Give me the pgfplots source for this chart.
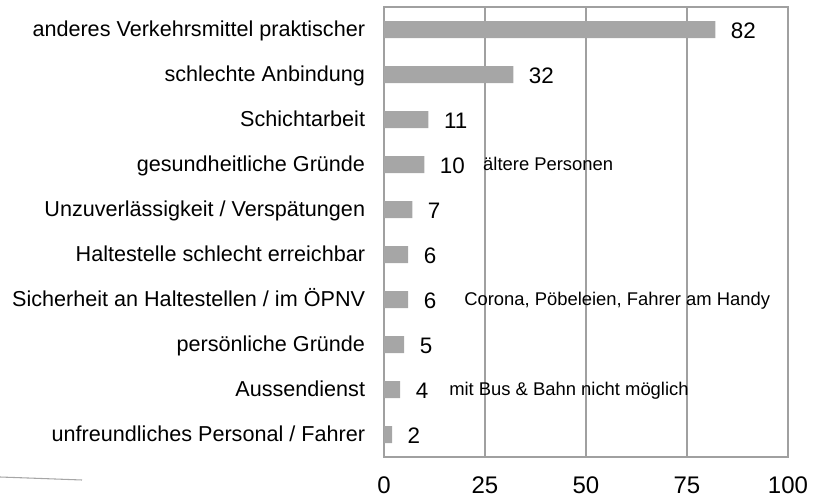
\documentclass[border=0pt]{standalone}
\usepackage{pgfplots}
\pgfplotsset{compat=1.18}
\usepackage{fontspec}
\setmainfont{Liberation Sans}
\definecolor{barcol}{HTML}{A6A6A6}
\definecolor{gridcol}{HTML}{A0A0A0}
\begin{document}
\begin{tikzpicture}
\path[use as bounding box] (-288pt,-30pt) rectangle (327.75pt,342.75pt);
\begin{axis}[
  scale only axis,
  width=303pt, height=337.5pt,
  xbar, bar width=12.75pt,
  xmin=0, xmax=100,
  ymin=-0.5, ymax=9.5,
  xtick={0,25,50,75,100},
  ytick={0,...,9},
  yticklabels={unfreundliches Personal / Fahrer, Aussendienst, persönliche Gründe, Sicherheit an Haltestellen / im ÖPNV, Haltestelle schlecht erreichbar, Unzuverlässigkeit / Verspätungen, gesundheitliche Gründe, Schichtarbeit, schlechte Anbindung, anderes Verkehrsmittel praktischer},
  major tick length=0pt,
  axis line style={gridcol, line width=0.9pt},
  xmajorgrids, grid style={gridcol, line width=0.9pt},
  /pgf/number format/assume math mode=true,
  xticklabel style={font=\fontsize{18}{20}\selectfont, yshift=-11.5pt},
  yticklabel style={font=\fontsize{16.2}{18}\selectfont, inner sep=0pt, xshift=-14pt, yshift=-3pt, anchor=east, text height=0.72em, text depth=0.2em},
  nodes near coords,
  nodes near coords style={font=\fontsize{16.8}{18}\selectfont, anchor=west, inner sep=0pt, xshift=11.5pt, yshift=-1pt, black},
]
\addplot[fill=barcol, draw=none] coordinates {
(2,0) (4,1) (5,2) (6,3) (6,4) (7,5) (10,6) (11,7) (32,8) (82,9)};
\tikzset{ann/.style={anchor=west, inner sep=0pt, yshift=-2.25pt, font=\fontsize{13.8}{15}\selectfont, text height=0.72em, text depth=0.2em}}
\node[ann] at (axis cs:24.5,6) {ältere Personen};
\node[ann] at (axis cs:19.8,3) {Corona, Pöbeleien, Fahrer am Handy};
\node[ann] at (axis cs:16.1,1) {mit Bus \& Bahn nicht möglich};
\end{axis}
\draw[gray!70, line width=0.8pt] (-288pt,-15pt) .. controls (-260pt,-16pt) .. (-226.5pt,-17.25pt);
\end{tikzpicture}
\end{document}
